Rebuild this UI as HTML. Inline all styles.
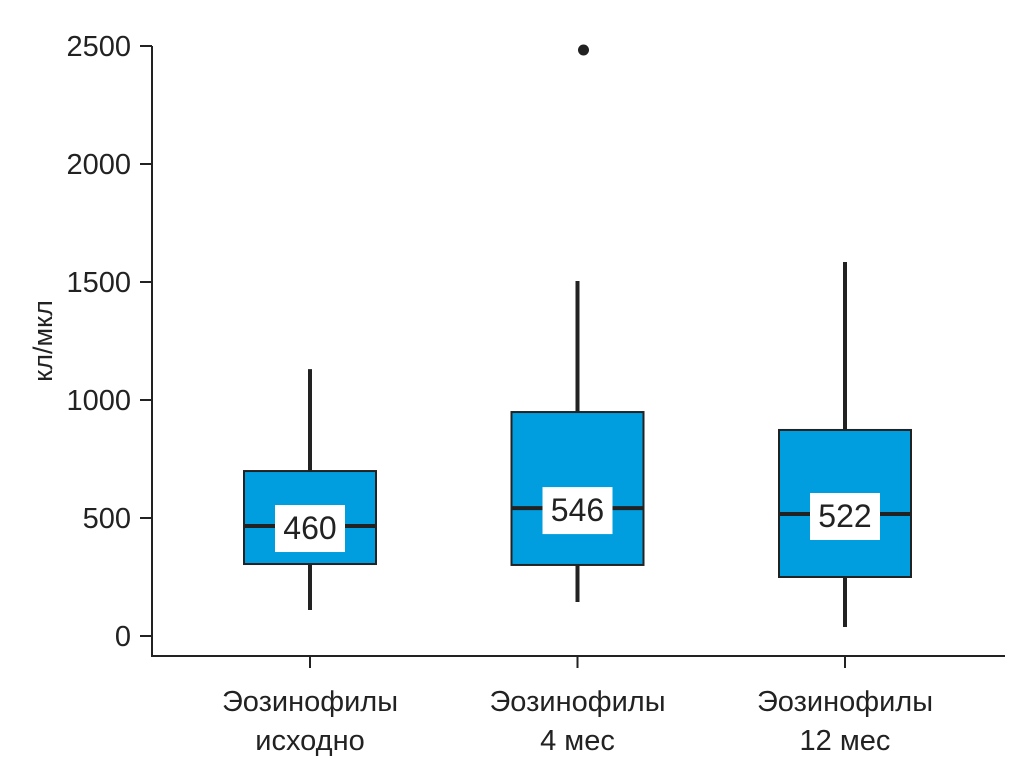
<!DOCTYPE html>
<html><head><meta charset="utf-8"><style>
html,body{margin:0;padding:0;background:#fff;}
svg{display:block;font-family:"Liberation Sans Narrow","Liberation Sans",sans-serif;}
</style></head><body>
<svg id="chart" width="1020" height="780">
<g id="axes"></g>
<g id="boxes"></g>
<text x="52" y="341" transform="rotate(-90 52 341)" text-anchor="middle" font-size="27" fill="#222">кл/мкл</text>
</svg>
<script>
const categories = [["Эозинофилы","исходно"],["Эозинофилы","4 мес"],["Эозинофилы","12 мес"]];
const q1 = [305, 301, 250];
const q3 = [699, 949, 873];
const medians = [466, 542, 517];
const medianLabels = ["460","546","522"];
const whiskerLow = [110, 144, 38];
const whiskerHigh = [1131, 1504, 1585];
const outliers = [[], [2483], []];
const yTicks = [0, 500, 1000, 1500, 2000, 2500];

const NS = "http://www.w3.org/2000/svg";
const y = v => 636 - v * (590 / 2500);
const x = i => 314 + i * 267.5;
function mk(tag, attrs, parent, txt){
  const e = document.createElementNS(NS, tag);
  for (const k in attrs) e.setAttribute(k, attrs[k]);
  if (txt !== undefined) e.textContent = txt;
  parent.appendChild(e); return e;
}
const axes = document.getElementById('axes');
const boxes = document.getElementById('boxes');
let l = mk('line',{x1:152,y1:46,x2:152,y2:656,stroke:'#222','stroke-width':2},axes);


l = mk('line',{x1:151,y1:656,x2:1005,y2:656,stroke:'#222','stroke-width':2},axes);


yTicks.forEach(t=>{
  const tk = mk('line',{x1:140,y1:y(t),x2:152,y2:y(t),stroke:'#222','stroke-width':2},axes);
  
  
  const tx = mk('text',{x:131,y:y(t)+10,'text-anchor':'end','font-size':29,fill:'#222'},axes,String(t));
  
  
});
categories.forEach((c,i)=>{
  const cx = x(i) - 4;
  const tk = mk('line',{x1:cx,y1:656,x2:cx,y2:668,stroke:'#222','stroke-width':2},axes);
  
  
  const t1 = mk('text',{x:cx,y:711,'text-anchor':'middle','font-size':29,fill:'#222'},axes,c[0]);
  
  
  const t2 = mk('text',{x:cx,y:750,'text-anchor':'middle','font-size':29,fill:'#222'},axes,c[1]);
  
  

  const w = mk('line',{x1:cx,y1:y(whiskerLow[i]),x2:cx,y2:y(whiskerHigh[i]),stroke:'#222','stroke-width':4},boxes);
  
  
  const r = mk('rect',{x:cx-66,y:y(q3[i]),width:132,height:y(q1[i])-y(q3[i]),fill:'#009ddf',stroke:'#222','stroke-width':2},boxes);
  
  
  const m = mk('line',{x1:cx-66,y1:y(medians[i]),x2:cx+66,y2:y(medians[i]),stroke:'#222','stroke-width':4},boxes);
  
  
  const lb = mk('rect',{x:cx-35,y:y(medians[i])-21,width:70,height:47,fill:'#fff'},boxes);
  
  
  const lt = mk('text',{x:cx,y:y(medians[i])+13,'text-anchor':'middle','font-size':32,fill:'#222'},boxes,medianLabels[i]);
  
  
  outliers[i].forEach(o=>{
    const d = mk('circle',{cx:cx+6,cy:y(o),r:5.5,fill:'#222'},boxes);
    
    
  });
});
</script>
</body></html>
